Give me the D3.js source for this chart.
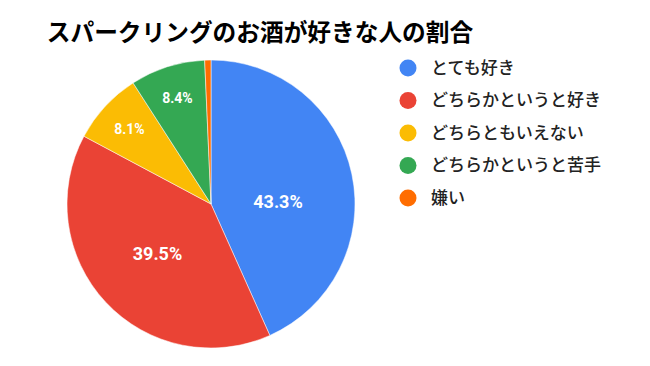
<!DOCTYPE html>
<html><head><meta charset="utf-8">
<script src="https://cdn.jsdelivr.net/npm/d3@7"></script>
<style>html,body{margin:0;padding:0;background:#fff;}</style>
</head><body>
<script>
const title = "スパークリングのお酒が好きな人の割合";
const categories = ["とても好き", "どちらかというと好き", "どちらともいえない", "どちらかというと苦手", "嫌い"];
const values = [43.3, 39.5, 8.1, 8.4, 0.7];
const colors = ["#4285F4", "#EA4335", "#FBBC04", "#34A853", "#FF6D01"];

const W = 650, H = 366;
const svg = d3.select("body").append("svg").attr("width", W).attr("height", H);
svg.append("rect").attr("width", W).attr("height", H).attr("fill", "#fff");

svg.append("text").attr("x", 260).attr("y", 41).attr("text-anchor", "middle")
  .attr("font-family", "'Noto Sans CJK JP', sans-serif").attr("font-weight", 700)
  .attr("font-size", 23.7).attr("fill", "#000").text(title);

const cx = 211, cy = 204, r = 144;
const data = categories.map((c, i) => ({ cat: c, value: values[i], color: colors[i] }));
const pie = d3.pie().sort(null).value(d => d.value);
const arcs = pie(data);
const arc = d3.arc().innerRadius(0).outerRadius(r);
const g = svg.append("g").attr("transform", `translate(${cx},${cy})`);
g.selectAll("path").data(arcs).join("path")
  .attr("d", arc).attr("fill", d => d.data.color)
  .attr("stroke", "#fff").attr("stroke-width", 0.5);

// labels
const fmt = v => v.toFixed(1) + "%";
arcs.forEach((a, i) => {
  if (a.data.value < 5) return;
  const theta = a.endAngle - a.startAngle;
  const big = a.data.value > 20;
  let dist = big ? (4 * r * Math.sin(theta / 2)) / (3 * theta) : r * 0.77;
  let mid = (a.startAngle + a.endAngle) / 2;
  let x = dist * Math.sin(mid), y = -dist * Math.cos(mid);
  if (i === 0) { x = 67; y = -2.5; }
  g.append("text").attr("x", x).attr("y", y).attr("dy", "0.36em")
    .attr("text-anchor", "middle")
    .attr("font-family", "Roboto, Arial, sans-serif").attr("font-weight", 700)
    .attr("font-size", big ? 18 : 14).attr("fill", "#fff").text(fmt(a.data.value));
});

// legend
const lg = svg.append("g");
const ly = d3.scalePoint().domain(categories).range([68, 198]);
categories.forEach((c, i) => {
  lg.append("circle").attr("cx", 408).attr("cy", ly(c)).attr("r", 8.5).attr("fill", colors[i]);
  lg.append("text").attr("x", 431).attr("y", ly(c)).attr("dy", "0.35em")
    .attr("font-family", "'Noto Sans CJK JP', sans-serif").attr("font-weight", 500)
    .attr("font-size", 17).attr("fill", "#222").text(c);
});
</script>
</body></html>
